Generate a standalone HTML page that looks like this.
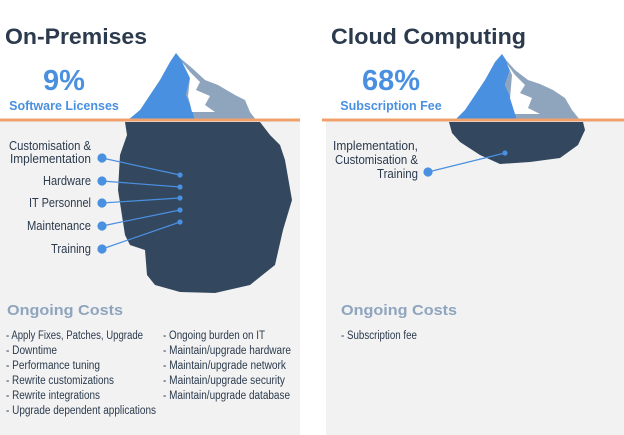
<!DOCTYPE html>
<html><head><meta charset="utf-8"><style>
html,body{margin:0;padding:0;background:#fff;}
svg{display:block}
.t{font-family:"Liberation Sans",sans-serif;fill:#2b3a4d}
.h{font-family:"Liberation Sans",sans-serif;font-weight:bold}
</style></head><body>
<svg width="624" height="435" viewBox="0 0 624 435" xmlns="http://www.w3.org/2000/svg">
<rect x="0" y="121" width="300" height="314" fill="#f2f2f2"/>
<rect x="326" y="121" width="298" height="314" fill="#f2f2f2"/>
<polygon points="128,120 140,110 150,95 160,80 170,62 176,53 180,58 185,65 190,78 186,95 192,108 195,120" fill="#4a90e0"/>
<polygon points="180,58 192,68 205,80 218,85 235,95 245,100 250,112 256,120 195,120 192,108 186,95 190,78 185,65" fill="#8fa5be"/>
<polygon points="182,62 190,72 200,82 196,90 210,96 205,105 215,112 192,112 188,96 190,78" fill="#fff"/>
<polygon points="125,122 127,135 120,155 118,190 125,235 130,245 145,250 147,275 155,285 180,292 215,293 250,285 275,265 283,230 292,200 285,160 280,145 270,135 260,122" fill="#33475f"/>
<line x1="0" y1="120" x2="300" y2="120" stroke="#f0a06a" stroke-width="3"/>
<polygon points="455,120 465,110 475,95 485,80 495,62 502,54 506,60 510,70 505,85 512,100 517,120" fill="#4a90e0"/>
<polygon points="506,60 515,70 528,80 540,84 553,90 565,98 572,110 580,120 517,120 512,100 505,85 510,70" fill="#8fa5be"/>
<polygon points="507,64 515,75 525,85 520,93 532,98 528,108 540,114 515,114 510,98 512,75" fill="#fff"/>
<polygon points="449,122 452,133 460,142 480,155 500,164 530,162 560,158 578,145 585,130 583,122" fill="#33475f"/>
<line x1="322" y1="120" x2="624" y2="120" stroke="#f0a06a" stroke-width="3"/>
<g stroke="#4a90e0" stroke-width="1.2" fill="#4a90e0">
<line x1="102" y1="158" x2="180" y2="175"/><line x1="102" y1="181" x2="180" y2="187"/>
<line x1="102" y1="203" x2="180" y2="198"/><line x1="102" y1="226" x2="180" y2="210"/>
<line x1="102" y1="249" x2="180" y2="222"/>
<circle cx="102" cy="158" r="4"/><circle cx="102" cy="181" r="4"/><circle cx="102" cy="203" r="4"/><circle cx="102" cy="226" r="4"/><circle cx="102" cy="249" r="4"/>
<circle cx="180" cy="175" r="2"/><circle cx="180" cy="187" r="2"/><circle cx="180" cy="198" r="2"/><circle cx="180" cy="210" r="2"/><circle cx="180" cy="222" r="2"/>
<line x1="428" y1="172" x2="505" y2="153"/><circle cx="428" cy="172" r="4"/><circle cx="505" cy="153" r="2"/>
</g>
<text class="h" x="5" y="44" font-size="22" fill="#2b3a4d" textLength="142" lengthAdjust="spacingAndGlyphs">On-Premises</text>
<text class="h" x="331" y="44" font-size="22" fill="#2b3a4d" textLength="195" lengthAdjust="spacingAndGlyphs">Cloud Computing</text>
<text class="h" x="64" y="90" font-size="29" fill="#4a90e0" text-anchor="middle">9%</text>
<text class="h" x="64" y="110" font-size="12.5" fill="#4a90e0" text-anchor="middle">Software Licenses</text>
<text class="h" x="391" y="90" font-size="29" fill="#4a90e0" text-anchor="middle">68%</text>
<text class="h" x="391" y="110" font-size="12.5" fill="#4a90e0" text-anchor="middle">Subscription Fee</text>
<g class="t" font-size="13" lengthAdjust="spacingAndGlyphs">
<text x="9" y="150" textLength="82" lengthAdjust="spacingAndGlyphs">Customisation &amp;</text>
<text x="10" y="163" textLength="81" lengthAdjust="spacingAndGlyphs">Implementation</text>
<text x="43" y="185" textLength="48" lengthAdjust="spacingAndGlyphs">Hardware</text>
<text x="29" y="207" textLength="62" lengthAdjust="spacingAndGlyphs">IT Personnel</text>
<text x="27" y="230" textLength="64" lengthAdjust="spacingAndGlyphs">Maintenance</text>
<text x="51" y="253" textLength="40" lengthAdjust="spacingAndGlyphs">Training</text>
<text x="333" y="150" textLength="85" lengthAdjust="spacingAndGlyphs">Implementation,</text>
<text x="335" y="164" textLength="83" lengthAdjust="spacingAndGlyphs">Customisation &amp;</text>
<text x="377" y="178" textLength="41" lengthAdjust="spacingAndGlyphs">Training</text>
</g>
<text class="h" x="7" y="315" font-size="15" fill="#8fa5be" textLength="116" lengthAdjust="spacingAndGlyphs">Ongoing Costs</text>
<text class="h" x="341" y="315" font-size="15" fill="#8fa5be" textLength="116" lengthAdjust="spacingAndGlyphs">Ongoing Costs</text>
<g class="t" font-size="11.5">
<text x="6" y="339" textLength="137" lengthAdjust="spacingAndGlyphs">- Apply Fixes, Patches, Upgrade</text>
<text x="6" y="354" textLength="51" lengthAdjust="spacingAndGlyphs">- Downtime</text>
<text x="6" y="369" textLength="94" lengthAdjust="spacingAndGlyphs">- Performance tuning</text>
<text x="6" y="384" textLength="108" lengthAdjust="spacingAndGlyphs">- Rewrite customizations</text>
<text x="6" y="399" textLength="94" lengthAdjust="spacingAndGlyphs">- Rewrite integrations</text>
<text x="6" y="414" textLength="150" lengthAdjust="spacingAndGlyphs">- Upgrade dependent applications</text>
<text x="163" y="339" textLength="102" lengthAdjust="spacingAndGlyphs">- Ongoing burden on IT</text>
<text x="163" y="354" textLength="128" lengthAdjust="spacingAndGlyphs">- Maintain/upgrade hardware</text>
<text x="163" y="369" textLength="123" lengthAdjust="spacingAndGlyphs">- Maintain/upgrade network</text>
<text x="163" y="384" textLength="122" lengthAdjust="spacingAndGlyphs">- Maintain/upgrade security</text>
<text x="163" y="399" textLength="127" lengthAdjust="spacingAndGlyphs">- Maintain/upgrade database</text>
<text x="341" y="339" textLength="76" lengthAdjust="spacingAndGlyphs">- Subscription fee</text>
</g>
</svg>
</body></html>
